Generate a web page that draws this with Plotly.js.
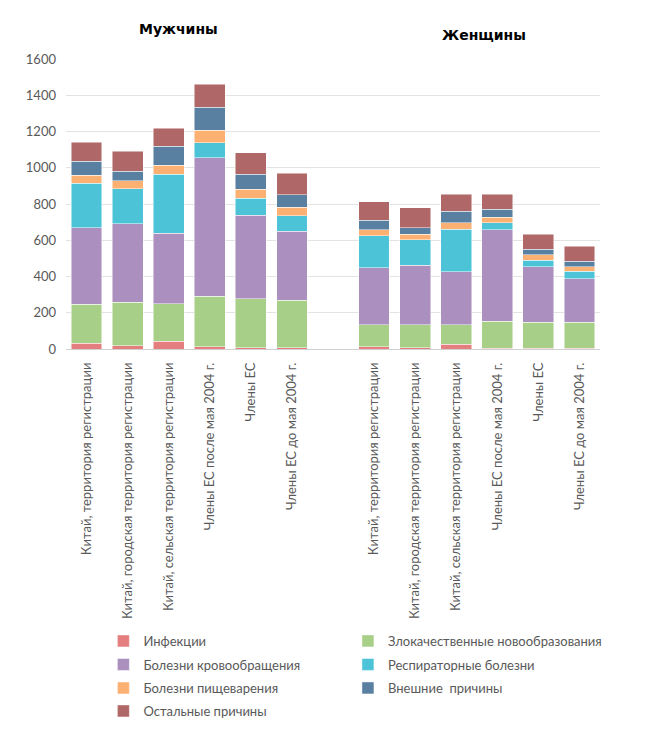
<!DOCTYPE html>
<html><head><meta charset="utf-8">
<script src="https://cdn.plot.ly/plotly-3.0.1.min.js"></script>
<style>html,body{margin:0;padding:0;background:#fff}#chart{width:650px;height:731px}</style>
</head><body><div id="chart"></div>
<script>
const groupTitles = ["Мужчины", "Женщины"];
const categories = [
  "Китай, территория регистрации",
  "Китай, городская территория регистрации",
  "Китай, сельская территория регистрации",
  "Члены ЕС после мая 2004 г.",
  "Члены ЕС",
  "Члены ЕС до мая 2004 г."
];
const seriesNames = [
  "Инфекции", "Злокачественные новообразования", "Болезни кровообращения",
  "Респираторные болезни", "Болезни пищеварения", "Внешние  причины", "Остальные причины"
];
const seriesColors = ["#e57f7f", "#a8cf88", "#ab8fbf", "#4dc3d7", "#fcb173", "#5a80a1", "#b06767"];
// men values per series (6 categories)
const menInfections = [31, 17, 42, 13, 7, 7];
const menCancer     = [217, 241, 208, 279, 269, 261];
const menCirc       = [421, 433, 390, 762, 463, 383];
const menResp       = [245, 194, 324, 83, 94, 85];
const menDigest     = [46, 42, 51, 70, 48, 47];
const menExternal   = [77, 55, 103, 126, 83, 67];
const menOther      = [103, 110, 100, 127, 119, 119];
// women values per series
const womenInfections = [13, 7, 26, 3, 3, 3];
const womenCancer     = [121, 127, 108, 150, 144, 144];
const womenCirc       = [313, 329, 291, 505, 307, 241];
const womenResp       = [178, 140, 237, 39, 37, 42];
const womenDigest     = [32, 30, 35, 31, 29, 24];
const womenExternal   = [53, 36, 64, 43, 30, 30];
const womenOther      = [103, 111, 92, 82, 84, 83];
const yTicks = [0, 200, 400, 600, 800, 1000, 1200, 1400, 1600];

const men = [menInfections, menCancer, menCirc, menResp, menDigest, menExternal, menOther];
const women = [womenInfections, womenCancer, womenCirc, womenResp, womenDigest, womenExternal, womenOther];

const n = categories.length;
const xMen = categories.map((c, i) => i);
const xWomen = categories.map((c, i) => i + n + 1);
const xAll = xMen.concat(xWomen);
const tickText = categories.concat(categories);

const legendIds = seriesNames.map((s, i) => i === 0 ? 'legend' : 'legend' + (i + 1));
const traces = seriesNames.map((name, s) => ({
  type: 'bar',
  name: name,
  x: xAll,
  y: men[s].concat(women[s]),
  legend: legendIds[s],
  marker: {color: seriesColors[s], line: {color: 'rgba(255,255,255,0.6)', width: 0.8}},
  hoverinfo: 'x+y+name'
}));

const font = "Lato, 'Open Sans', 'Liberation Sans', sans-serif";
const titleFont = "'DejaVu Sans', Verdana, sans-serif";
const rowCenters = [641, 664.5, 688, 711];
const colX = [0.07, 0.528];
const layout = {
  width: 650, height: 731,
  margin: {l: 66, r: 50, t: 59, b: 382},
  barmode: 'stack',
  bargap: 0.25,
  paper_bgcolor: '#fff', plot_bgcolor: '#fff',
  font: {family: font, color: '#595959', size: 12},
  showlegend: true,
  xaxis: {
    range: [-0.5, 2 * n + 0.5],
    tickmode: 'array', tickvals: xAll, ticktext: tickText,
    tickangle: -90, showgrid: false, zeroline: false,
    showline: false, ticks: '', ticklabelstandoff: 10,
    tickfont: {family: font, size: 13, color: '#595959'}
  },
  yaxis: {
    range: [0, 1600], tickmode: 'array', tickvals: yTicks,
    showgrid: true, gridcolor: '#e3e3e3', gridwidth: 1,
    zeroline: true, zerolinecolor: '#d0d0d0', zerolinewidth: 1,
    showline: false, ticks: '', ticklabelstandoff: 9,
    tickfont: {family: font, size: 13, color: '#595959'}
  },
  annotations: [
    {text: '<b>' + groupTitles[0] + '</b>', xref: 'paper', yref: 'paper', x: 0.2107, y: 1.105, xanchor: 'center', yanchor: 'middle', showarrow: false, font: {family: titleFont, size: 14, color: '#000'}},
    {text: '<b>' + groupTitles[1] + '</b>', xref: 'paper', yref: 'paper', x: 0.782, y: 1.083, xanchor: 'center', yanchor: 'middle', showarrow: false, font: {family: titleFont, size: 14, color: '#000'}}
  ]
};
legendIds.forEach((id, s) => {
  layout[id] = {
    orientation: 'v', xref: 'paper', x: colX[s % 2], xanchor: 'left',
    yref: 'container', y: 1 - rowCenters[Math.floor(s / 2)] / 731, yanchor: 'middle',
    font: {family: font, size: 13, color: '#595959'}, bgcolor: 'rgba(0,0,0,0)'
  };
});
Plotly.newPlot('chart', traces, layout, {displayModeBar: false, staticPlot: true});
</script>
</body></html>
